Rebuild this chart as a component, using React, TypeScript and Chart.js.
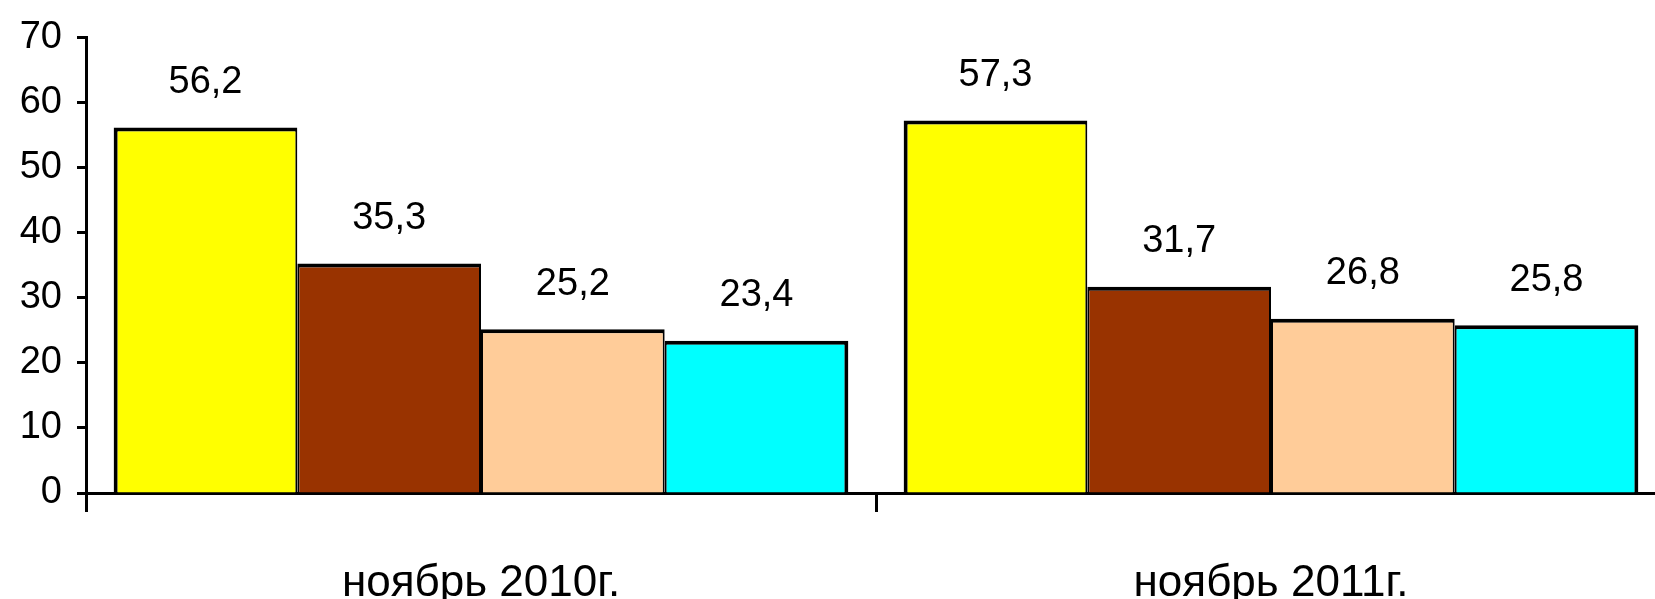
import React, { useEffect, useRef } from "react";
import { Chart, registerables } from "chart.js";

Chart.register(...registerables);

const categories = ["ноябрь 2010г.", "ноябрь 2011г."];
const seriesYellow = [56.2, 57.3];
const seriesBrown = [35.3, 31.7];
const seriesPeach = [25.2, 26.8];
const seriesCyan = [23.4, 25.8];
const yTicks = [0, 10, 20, 30, 40, 50, 60, 70];

const FONT = "'Liberation Sans Narrow', 'Liberation Sans', Arial, sans-serif";

const valueLabels = {
  id: "valueLabels",
  afterDatasetsDraw(chart: any) {
    const ctx = chart.ctx;
    ctx.save();
    ctx.font = `38px ${FONT}`;
    ctx.fillStyle = "#000";
    ctx.textAlign = "center";
    ctx.textBaseline = "middle";
    chart.data.datasets.forEach((ds: any, i: number) => {
      const meta = chart.getDatasetMeta(i);
      meta.data.forEach((bar: any, j: number) => {
        const v = ds.data[j];
        ctx.fillText(String(v).replace(".", ","), bar.x, bar.y - 45);
      });
    });
    ctx.restore();
  },
};

export default function App() {
  const ref = useRef<HTMLCanvasElement | null>(null);
  useEffect(() => {
    document.body.style.margin = "0";
    document.documentElement.style.overflow = "hidden";
    const mk = (label: string, data: number[], color: string, left: number, right: number) => ({
      label,
      data,
      backgroundColor: color,
      borderColor: "#000",
      borderWidth: { top: 4, left, right, bottom: 0 },
      borderSkipped: false as const,
      barPercentage: 1.0,
      categoryPercentage: 0.93,
    });
    const chart = new Chart(ref.current as HTMLCanvasElement, {
      type: "bar",
      data: {
        labels: categories,
        datasets: [
          mk("A", seriesYellow, "#FFFF00", 4, 2),
          mk("B", seriesBrown, "#993300", 2, 2),
          mk("C", seriesPeach, "#FFCC99", 2, 2),
          mk("D", seriesCyan, "#00FFFF", 2, 4),
        ],
      },
      options: {
        animation: false,
        responsive: false,
        layout: { padding: { top: 34, left: 0, right: 0, bottom: 0 } },
        plugins: { legend: { display: false }, tooltip: { enabled: false } },
        scales: {
          x: {
            border: { display: true, color: "#000", width: 3 },
            grid: {
              display: true,
              drawOnChartArea: false,
              drawTicks: true,
              tickLength: 19,
              tickWidth: 3,
              tickColor: "#000",
              offset: true,
            },
            ticks: {
              color: "#000",
              font: { family: FONT, size: 44 },
              padding: 45,
              maxRotation: 0,
            },
            afterFit: (s: any) => {
              s.height = 106;
            },
          },
          y: {
            min: 0,
            max: 70,
            border: { display: true, color: "#000", width: 3 },
            grid: {
              display: true,
              drawOnChartArea: false,
              drawTicks: true,
              tickLength: 9,
              tickWidth: 3,
              tickColor: "#000",
            },
            afterBuildTicks: (s: any) => {
              s.ticks = yTicks.map((v) => ({ value: v }));
            },
            ticks: {
              color: "#000",
              font: { family: FONT, size: 38 },
              padding: 15,
            },
            afterFit: (s: any) => {
              s.width = 86;
            },
          },
        },
      },
      plugins: [valueLabels],
    });
    return () => chart.destroy();
  }, []);
  return (
    <div style={{ width: 1655, height: 599, overflow: "hidden", position: "relative", background: "#fff" }}>
      <canvas ref={ref} width={1666} height={599} style={{ width: 1666, height: 599, display: "block" }} />
    </div>
  );
}
